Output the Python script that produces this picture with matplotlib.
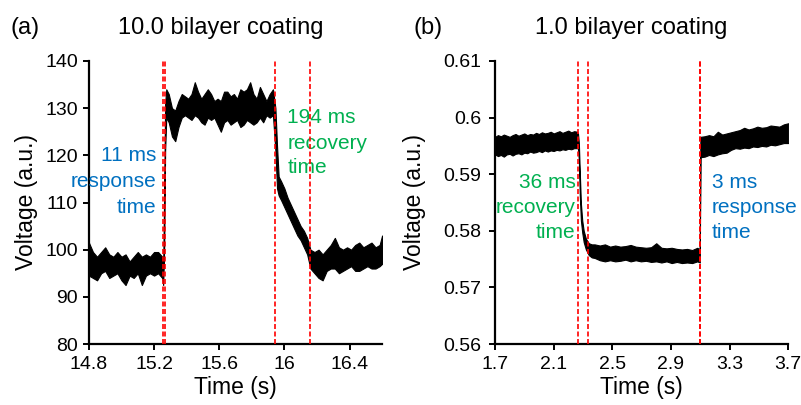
import matplotlib
matplotlib.use("Agg")
import matplotlib.pyplot as plt

plt.rcParams['font.family'] = ['Liberation Sans', 'DejaVu Sans']

# ---- panel (a): 10.0 bilayer coating, noise band ----
a_time = [14.800, 14.825, 14.850, 14.875, 14.900, 14.925, 14.950, 14.975, 15.000, 15.025,
          15.050, 15.075, 15.100, 15.125, 15.150, 15.175, 15.200, 15.225, 15.250,
          15.256, 15.262, 15.268, 15.275,
          15.29, 15.31, 15.33, 15.35, 15.37, 15.39, 15.41, 15.43, 15.45, 15.47,
          15.49, 15.51, 15.53, 15.55, 15.57, 15.59, 15.61, 15.63, 15.65, 15.67,
          15.69, 15.71, 15.73, 15.75, 15.77, 15.79, 15.81, 15.83, 15.85, 15.87,
          15.89, 15.91, 15.93,
          15.945, 15.955, 15.965, 15.98, 16.00, 16.02, 16.04, 16.06, 16.08, 16.10,
          16.12, 16.14, 16.16,
          16.185, 16.21, 16.235, 16.26, 16.285, 16.31, 16.335, 16.36, 16.385, 16.41,
          16.435, 16.46, 16.485, 16.51, 16.535, 16.56, 16.585, 16.60]
a_upper = [101.5, 99.5, 98.5, 99.5, 100.5, 99.0, 98.5, 99.5, 98.5, 99.0,
           97.5, 98.5, 99.5, 98.5, 99.0, 98.5, 99.5, 99.5, 98.5,
           96.0, 112, 131, 134,
           133, 130, 129.5, 131.5, 133, 132.5, 132, 133, 135.5, 133.5,
           132, 133, 134, 133, 131.5, 132, 131.5, 133.5, 133.5, 132.5,
           133, 132, 134, 133.5, 134, 135.5, 133, 132, 134.5, 133,
           131.5, 133, 134,
           130, 122, 115.5, 114.5, 113, 111, 109.5, 108, 106.5, 105,
           104, 102.5, 100,
           99.5, 100, 99, 100, 101, 102.5, 100.5, 100, 100.5, 100,
           101, 101.5, 100.5, 101, 101.5, 100.5, 101, 103]
a_lower = [94.5, 94.0, 93.5, 95.0, 95.5, 94.0, 94.5, 95.0, 93.5, 92.5,
           94.5, 94.0, 95.0, 92.5, 94.5, 95.0, 94.5, 95.0, 94.0,
           92.5, 100, 121, 128,
           127, 124, 123, 126, 128, 128.5, 128, 127.5, 128.5, 128,
           127, 126.5, 128, 127.5, 128, 126.5, 125, 127, 127.5, 126.5,
           127, 127.5, 126, 126.5, 127.5, 127, 126.5, 127, 128, 127,
           128.5, 128, 128.5,
           121, 113, 111.5, 110.5, 109, 107.5, 106, 104.5, 103, 102,
           100.5, 99, 96,
           95, 94, 93.5, 95.5, 96, 96, 95, 95.5, 96, 96.5,
           95.5, 95.5, 96, 96.5, 96, 96, 96.5, 97]
a_marks = [15.255, 15.27, 15.94, 16.16]
a_xticks = [14.8, 15.2, 15.6, 16.0, 16.4]
a_xlabels = ['14.8', '15.2', '15.6', '16', '16.4']
a_yticks = [80, 90, 100, 110, 120, 130, 140]
a_ylabels = ['80', '90', '100', '110', '120', '130', '140']

# ---- panel (b): 1.0 bilayer coating ----
b_time = [1.70, 1.72, 1.74, 1.76, 1.78, 1.80, 1.82, 1.84, 1.86, 1.88,
          1.90, 1.92, 1.94, 1.96, 1.98, 2.00, 2.02, 2.04, 2.06, 2.08,
          2.10, 2.12, 2.14, 2.16, 2.18, 2.20, 2.22, 2.24, 2.26,
          2.266, 2.272, 2.278, 2.286, 2.295, 2.305, 2.32, 2.34, 2.36,
          2.38, 2.415, 2.45, 2.485, 2.52, 2.555, 2.59, 2.625, 2.66, 2.695,
          2.73, 2.765, 2.80, 2.835, 2.87, 2.905, 2.94, 2.975, 3.01, 3.045, 3.08,
          3.097, 3.101,
          3.13, 3.16, 3.19, 3.22, 3.25, 3.28, 3.31, 3.34, 3.37, 3.40,
          3.43, 3.46, 3.49, 3.52, 3.55, 3.58, 3.61, 3.64, 3.67, 3.70]
b_upper = [.5966, .5969, .5967, .5970, .5968, .5966, .5969, .5971, .5968, .5970,
           .5972, .5969, .5971, .5970, .5973, .5971, .5974, .5972, .5973, .5975,
           .5972, .5974, .5976, .5973, .5975, .5977, .5974, .5976, .5975,
           .5972, .5955, .5905, .5848, .5818, .5800, .5786, .5778, .5776,
           .5776, .5774, .5776, .5772, .5774, .5772, .5773, .5775, .5772, .5771,
           .5770, .5771, .5778, .5770, .5769, .5770, .5768, .5767, .5768, .5766, .5770,
           .5767, .5966,
           .5967, .5969, .5967, .5975, .5970, .5972, .5974, .5976, .5978, .5982,
           .5979, .5981, .5984, .5982, .5983, .5986, .5985, .5984, .5988, .5990]
b_lower = [.5935, .5932, .5934, .5931, .5935, .5936, .5933, .5936, .5937, .5935,
           .5938, .5937, .5940, .5938, .5939, .5941, .5939, .5942, .5940, .5942,
           .5941, .5943, .5942, .5944, .5943, .5945, .5944, .5946, .5946,
           .5945, .5925, .5865, .5818, .5797, .5780, .5767, .5757, .5753,
           .5752, .5748, .5746, .5748, .5746, .5747, .5749, .5746, .5748, .5746,
           .5747, .5745, .5746, .5744, .5746, .5743, .5745, .5743, .5744, .5743, .5746,
           .5744, .5930,
           .5931, .5934, .5932, .5935, .5937, .5938, .5943, .5946, .5945, .5947,
           .5946, .5949, .5948, .5950, .5949, .5952, .5951, .5953, .5955, .5955]
b_marks = [2.268, 2.336, 3.097, 3.100]
b_xticks = [1.7, 2.1, 2.5, 2.9, 3.3, 3.7]
b_xlabels = ['1.7', '2.1', '2.5', '2.9', '3.3', '3.7']
b_yticks = [0.56, 0.57, 0.58, 0.59, 0.60, 0.61]
b_ylabels = ['0.56', '0.57', '0.58', '0.59', '0.6', '0.61']

# annotation lines
a_resp = ['11 ms', 'response', 'time']
a_rec = ['194 ms', 'recovery', 'time']
b_rec = ['36 ms', 'recovery', 'time']
b_resp = ['3 ms', 'response', 'time']

BLUE = '#0070C0'
GREEN = '#00B050'

fig = plt.figure(figsize=(8.01, 4.05), dpi=100)
ax_a = fig.add_axes([0.111, 0.1506, 0.366, 0.6988])
ax_b = fig.add_axes([0.618, 0.1506, 0.366, 0.6988])


def style(ax, xlim, ylim, xt, xl, yt, yl, ypad):
    ax.set_xlim(*xlim)
    ax.set_ylim(*ylim)
    ax.set_xticks(xt)
    ax.set_xticklabels(xl)
    ax.set_yticks(yt)
    ax.set_yticklabels(yl)
    for s in ('top', 'right'):
        ax.spines[s].set_visible(False)
    for s in ('left', 'bottom'):
        ax.spines[s].set_linewidth(1.6)
    ax.tick_params(direction='out', length=4.5, width=1.4, labelsize=14)
    ax.tick_params(axis='y', pad=ypad)
    ax.tick_params(axis='x', pad=4)
    ax.set_xlabel('Time (s)', fontsize=16.5, labelpad=2)
    ax.set_ylabel('Voltage (a.u.)', fontsize=16.5)


def note(ax, x, ys, lines, color, ha):
    for y, s in zip(ys, lines):
        ax.text(x, y, s, color=color, fontsize=15, ha=ha, va='center')


# panel a
ax_a.fill_between(a_time, a_lower, a_upper, color='black', lw=0.8, zorder=3)
for m in a_marks:
    ax_a.axvline(m, color='red', lw=1.2, ls=(0, (3, 1.5)), zorder=4)
style(ax_a, (14.8, 16.6), (80, 140), a_xticks, a_xlabels, a_yticks, a_ylabels, 3.5)
ax_a.yaxis.set_label_coords(-0.175, 0.5)
note(ax_a, 15.212, [120.0, 114.5, 109.0], a_resp, BLUE, 'right')
note(ax_a, 16.018, [128.1, 122.6, 117.5], a_rec, GREEN, 'left')

# panel b
ax_b.fill_between(b_time, b_lower, b_upper, color='black', lw=0.8, zorder=3)
for m in b_marks:
    ax_b.axvline(m, color='red', lw=1.2, ls=(0, (3, 1.5)), zorder=4)
style(ax_b, (1.7, 3.7), (0.56, 0.61), b_xticks, b_xlabels, b_yticks, b_ylabels, 5.5)
ax_b.yaxis.set_label_coords(-0.235, 0.5)
note(ax_b, 2.250, [0.5885, 0.5841, 0.5797], b_rec, GREEN, 'right')
note(ax_b, 3.178, [0.5885, 0.5841, 0.5797], b_resp, BLUE, 'left')

# panel letters and titles
fig.text(25 / 801, 1 - 28 / 405, '(a)', fontsize=17, ha='center', va='center')
fig.text(221 / 801, 1 - 28 / 405, '10.0 bilayer coating', fontsize=17, ha='center', va='center')
fig.text(428 / 801, 1 - 28 / 405, '(b)', fontsize=17, ha='center', va='center')
fig.text(631 / 801, 1 - 28 / 405, '1.0 bilayer coating', fontsize=17, ha='center', va='center')

fig.savefig('out.png', dpi=100)
